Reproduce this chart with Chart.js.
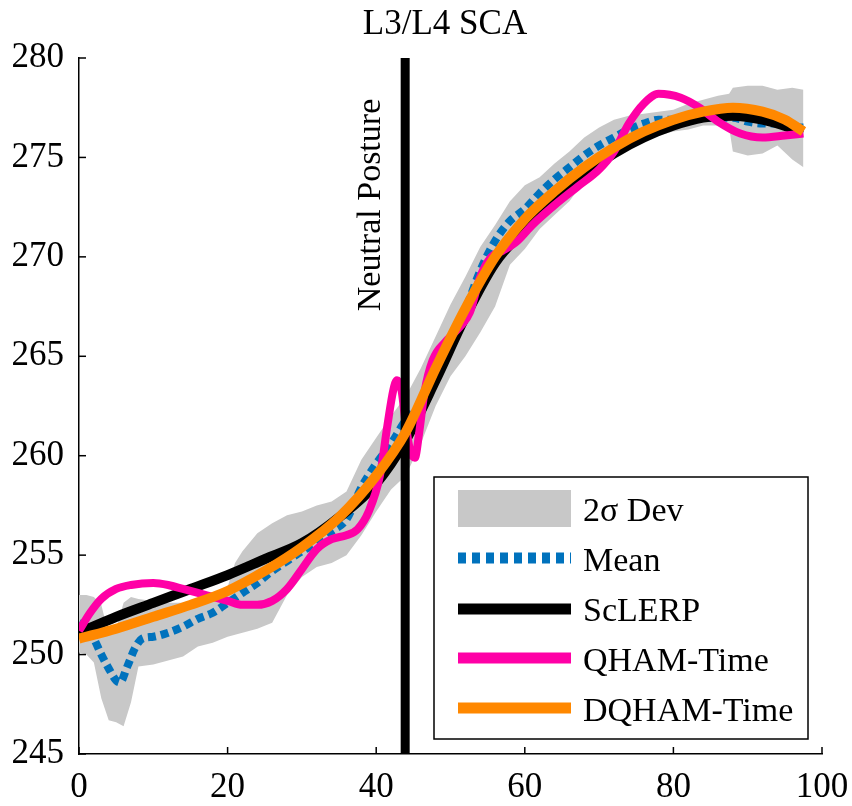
<!DOCTYPE html>
<html>
<head>
<meta charset="utf-8">
<script src="https://cdn.jsdelivr.net/npm/chart.js@4.4.0/dist/chart.umd.min.js"></script>
<style>
html,body{margin:0;padding:0;background:#fff;}
</style>
</head>
<body>
<canvas id="myChart" width="852" height="806"></canvas>
<script>
// 2 sigma band
const bandX=[0,1,2,3,4,5,6,7,8,10,12,14,16,18,20,21,22,24,26,28,30,32,34,36,38,40,42,44,46,48,50,52,54,56,58,60,62,64,66,68,70,72,74,76,78,80,82,84,86,87.5,88,90,92,94,96,97.5]
const bandUpper=[253.0,253.0,252.9,252.5,251.0,251.3,252.6,252.9,252.8,252.7,252.6,252.6,252.7,253.0,253.4,254.6,255.2,256.1,256.6,257.0,257.2,257.5,257.7,258.2,259.8,260.9,262.0,263.0,264.4,266.0,267.6,269.0,270.5,271.6,272.8,273.6,274.0,274.7,275.3,276.0,276.5,276.9,277.1,277.2,277.3,277.4,277.7,277.9,278.1,278.2,278.5,278.6,278.6,278.4,278.5,278.4]
const bandLower=[250.1,250.0,249.6,247.8,246.7,246.6,246.4,247.6,249.4,249.5,249.7,249.9,250.4,250.6,250.9,251.0,251.1,251.3,251.6,253.0,253.9,254.4,254.6,255.0,256.0,257.2,258.3,259.0,260.6,262.5,264.0,265.0,266.2,267.5,269.6,270.4,271.4,272.1,272.8,273.8,274.5,275.1,275.6,275.8,276.1,276.3,276.4,276.6,276.6,276.5,275.3,275.1,275.2,275.6,274.9,274.5]

// mean
const meanX=[0,1,2,3,4,5,5.5,6.5,7.5,8.5,10,12,14,16,18,20,22,24,26,28,30,32,34,36,38,40,42,44,46,48,50,52,54,56,58,60,62,64,66,68,70,72,74,76,78,80,82,84,86,88,90,92,94,96,97.5]
const meanY=[251.6,251.4,250.8,250.0,249.3,248.7,248.6,249.4,250.3,250.8,250.9,251.1,251.4,251.8,252.1,252.6,253.1,253.6,254.2,254.7,255.2,255.6,256.2,256.8,258.4,259.6,260.6,261.8,262.6,264.0,265.4,267.3,269.3,270.8,271.8,272.4,273.2,273.9,274.5,275.1,275.6,276.0,276.4,276.7,276.9,276.9,277.0,277.0,277.0,277.0,276.8,276.7,276.7,276.5,276.5]

// ScLERP
const sclerpX=[0,5,10,15,20,25,30,35,40,44,48,52,56,60,64,68,72,76,80,84,88,92,97.5]
const sclerpY=[251.1,251.9,252.6,253.3,254.0,254.8,255.6,256.9,258.6,260.8,263.8,267.0,269.7,271.4,273.0,274.2,275.2,276.0,276.6,277.0,277.1,276.9,276.3]

// QHAM-Time
const qhamX=[0,1.5,3,5,7,10,12,14,16,18,20,22,24,26,28,30,32,34,36,37.5,39,40.5,41.5,42.3,42.8,43.4,44,44.6,45.2,45.8,46.5,47.6,49.5,51.3,52.6,54,55.5,57,59,61,64,67,70,72,74,76,78,81,83.5,86,89,92,95,97.5]
const qhamY=[251.2,252.1,252.8,253.3,253.5,253.6,253.5,253.3,253.1,252.9,252.7,252.5,252.5,252.7,253.3,254.3,255.3,255.8,256.0,256.3,257.2,259.0,261.5,263.3,263.8,263.3,261.5,260.2,259.9,261.2,263.2,264.8,265.8,266.5,267.2,269.0,270.0,270.3,270.8,271.6,272.6,273.5,274.4,275.3,276.7,277.7,278.2,278.0,277.5,276.8,276.2,276.0,276.1,276.2]

// DQHAM-Time
const dqhamX=[0,5,10,15,20,25,30,35,40,44,48,52,56,60,64,68,72,76,80,84,88,92,95,97.5]
const dqhamY=[250.8,251.3,251.9,252.5,253.2,254.2,255.4,256.9,259.0,261.2,264.4,267.4,270.0,271.9,273.3,274.5,275.5,276.3,276.9,277.3,277.5,277.3,276.9,276.3]

const neutralX=43.9
const legendLabels=['2σ Dev','Mean','ScLERP','QHAM-Time','DQHAM-Time']

const serif='"Liberation Serif", "Times New Roman", serif'
const gray='#c8c8c8', blue='#0072bd', pink='#ff00a6', orange='#ff8800'

function pts(xs,ys){
	return xs.map((x,i)=>({x:x,y:ys[i]}))
}

const extras={
	id:'extras',
	afterDatasetsDraw(chart){
		const ctx=chart.ctx
		const a=chart.chartArea
		const sx=chart.scales.x, sy=chart.scales.y
		ctx.save()
		// inward ticks
		ctx.strokeStyle='#000'
		ctx.lineWidth=1.5
		sy.ticks.forEach(t=>{
			const py=sy.getPixelForValue(t.value)
			ctx.beginPath(); ctx.moveTo(a.left,py); ctx.lineTo(a.left+7,py); ctx.stroke()
		})
		sx.ticks.forEach(t=>{
			const px=sx.getPixelForValue(t.value)
			ctx.beginPath(); ctx.moveTo(px,a.bottom); ctx.lineTo(px,a.bottom-7); ctx.stroke()
		})
		// texts
		ctx.fillStyle='#000'
		ctx.font='35px '+serif
		ctx.textAlign='center'
		ctx.textBaseline='middle'
		ctx.fillText('L3/L4 SCA',445,25)
		ctx.font='34px '+serif
		ctx.save()
		ctx.translate(371,205)
		ctx.rotate(-Math.PI/2)
		ctx.fillText('Neutral Posture',0,0)
		ctx.restore()
		// legend
		ctx.fillStyle='#fff'
		ctx.fillRect(434,477,374,262)
		ctx.strokeStyle='#000'
		ctx.lineWidth=1.5
		ctx.strokeRect(434,477,374,262)
		ctx.fillStyle=gray
		ctx.fillRect(458,490,113,37)
		const rows=[[blue,558,[8,6]],['#000',609,[]],[pink,658,[]],[orange,708,[]]]
		rows.forEach(r=>{
			ctx.strokeStyle=r[0]
			ctx.lineWidth=11
			ctx.setLineDash(r[2])
			ctx.lineCap='butt'
			ctx.beginPath(); ctx.moveTo(458,r[1]); ctx.lineTo(571,r[1]); ctx.stroke()
		})
		ctx.setLineDash([])
		ctx.fillStyle='#000'
		ctx.textAlign='left'
		legendLabels.forEach((l,i)=>{
			ctx.fillText(l,583,512+i*50)
		})
		ctx.restore()
	}
}

const ctx=document.getElementById('myChart').getContext('2d')
const myChart=new Chart(ctx,{
	type:'line',
	data:{
		datasets:[
			{
				label:'DQHAM-Time',
				data:pts(dqhamX,dqhamY),
				borderColor:orange,
				borderWidth:10,
				cubicInterpolationMode:'monotone',
				order:0,
			},
			{
				label:'Neutral Posture',
				data:[{x:neutralX,y:245},{x:neutralX,y:280}],
				borderColor:'#000',
				borderWidth:9,
				order:1,
			},
			{
				label:'QHAM-Time',
				data:pts(qhamX,qhamY),
				borderColor:pink,
				borderWidth:8,
				cubicInterpolationMode:'monotone',
				order:2,
			},
			{
				label:'ScLERP',
				data:pts(sclerpX,sclerpY),
				borderColor:'#000',
				borderWidth:10,
				cubicInterpolationMode:'monotone',
				order:3,
			},
			{
				label:'Mean',
				data:pts(meanX,meanY),
				borderColor:blue,
				borderWidth:8,
				borderDash:[8,5],
				borderCapStyle:'butt',
				cubicInterpolationMode:'monotone',
				order:4,
			},
			{
				label:'2σ Dev',
				data:pts(bandX,bandUpper),
				borderWidth:0,
				borderColor:gray,
				backgroundColor:gray,
				fill:'+1',
				order:5,
			},
			{
				label:'lower',
				data:pts(bandX,bandLower),
				borderWidth:0,
				borderColor:gray,
				fill:false,
				order:6,
			},
		]
	},
	options:{
		responsive:false,
		animation:false,
		elements:{point:{radius:0}},
		layout:{padding:{top:58,right:30,left:0,bottom:0}},
		plugins:{legend:{display:false},tooltip:{enabled:false}},
		scales:{
			x:{
				type:'linear',
				min:0,max:100,
				grid:{display:false,drawTicks:false},
				border:{display:true,color:'#000',width:1.5},
				ticks:{stepSize:20,padding:13,color:'#000',font:{family:serif,size:35},maxRotation:0},
				afterFit:(s)=>{s.height=52;s.paddingLeft=0;s.paddingRight=0}
			},
			y:{
				min:245,max:280,
				grid:{display:false,drawTicks:false},
				border:{display:true,color:'#000',width:1.5},
				ticks:{stepSize:5,padding:15,color:'#000',font:{family:serif,size:35}},
				afterFit:(s)=>{s.width=79;s.paddingTop=0;s.paddingBottom=0}
			}
		}
	},
	plugins:[extras]
})
</script>
</body>
</html>
